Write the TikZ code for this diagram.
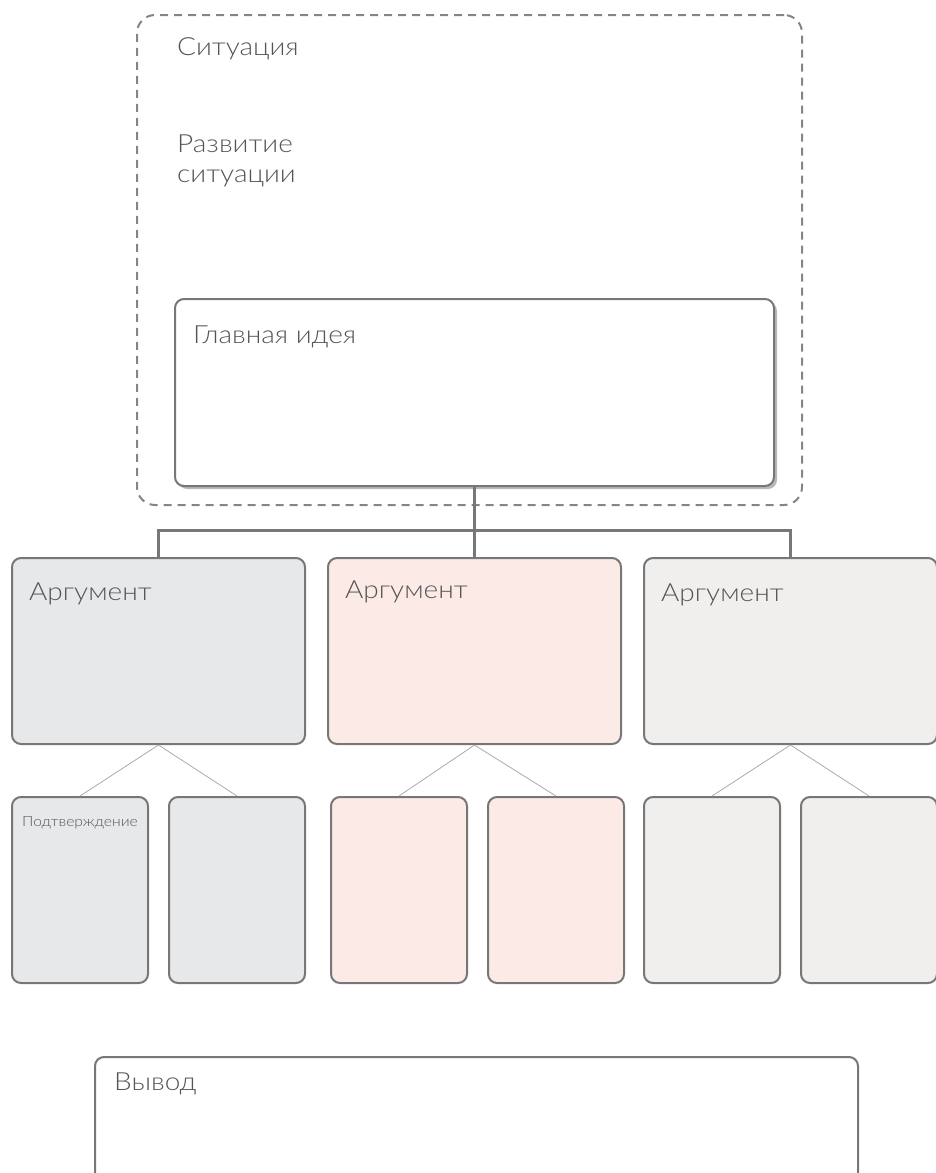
\documentclass[tikz,border=0pt]{standalone}
\usepackage{fontspec}
\IfFontExistsTF{Lato Light}{\setmainfont{Lato Light}[FakeStretch=1.12]}{\setmainfont{Lato}[FakeStretch=1.08]}
\usetikzlibrary{shadows}
\definecolor{edgegray}{HTML}{777777}
\definecolor{textgray}{HTML}{555555}
\definecolor{thingray}{HTML}{AAAAAA}
\definecolor{fillblue}{HTML}{E7E8EA}
\definecolor{fillpink}{HTML}{FCEAE7}
\definecolor{fillstone}{HTML}{F0EFEE}

\begin{document}
\begin{tikzpicture}[x=1pt,y=-1pt,
  box/.style={rectangle,draw=edgegray,line width=2pt,rounded corners=9pt,inner sep=0pt},
  arg box/.style={box,minimum width=293pt,minimum height=186pt},
  sub box/.style={box,minimum width=136pt,minimum height=186pt},
  frame box/.style={rectangle,draw=edgegray!90,line width=2pt,dash pattern=on 8pt off 6pt,rounded corners=18pt,minimum width=665pt,minimum height=490pt},
  caption/.style={anchor=base west,inner sep=0pt,text=textgray,font=\fontsize{25}{30}\selectfont},
  small caption/.style={caption,font=\fontsize{14}{18}\selectfont},
  link/.style={draw=edgegray,line width=3pt},
  thin link/.style={draw=thingray,line width=0.8pt}]

  \useasboundingbox (0,0) rectangle (935,1173);

  % situation frame and main idea
  \node[frame box] (sit) at (469.5,260) {};
  \node[box,fill=white,minimum width=599pt,minimum height=187pt,
        drop shadow={shadow xshift=3pt,shadow yshift=-3pt,opacity=0.55}] (idea) at (474.5,392.5) {};

  \node[caption] (sitText) at (177,55) {Ситуация};
  \node[caption,align=left] (devText) at (177,182) {Развитие\\ситуации};
  \node[caption] (ideaText) at (193,343) {Главная идея};

  % arguments
  \node[arg box,fill=fillblue] (arg1) at (158.5,651) {};
  \node[arg box,fill=fillpink] (arg2) at (474.5,651) {};
  \node[arg box,fill=fillstone] (arg3) at (790.5,651) {};

  \node[caption] (arg1Text) at (29,600) {Аргумент};
  \node[caption] (arg2Text) at (345,598) {Аргумент};
  \node[caption] (arg3Text) at (661,601) {Аргумент};

  % proofs
  \node[sub box,fill=fillblue] (p1a) at (80,890) {};
  \node[sub box,fill=fillblue] (p1b) at (237,890) {};
  \node[sub box,fill=fillpink] (p2a) at (399,890) {};
  \node[sub box,fill=fillpink] (p2b) at (556,890) {};
  \node[sub box,fill=fillstone] (p3a) at (712,890) {};
  \node[sub box,fill=fillstone] (p3b) at (869,890) {};

  \node[small caption] (proofText) at (22,826) {Подтверждение};

  % conclusion
  \node[box,fill=white,minimum width=763pt,minimum height=140pt] (concl) at (476.5,1127) {};
  \node[caption] (conclText) at (114,1090) {Вывод};

  % connectors
  \coordinate (bus) at (474.5,530);
  \path[link] (idea.south) -- (bus);
  \path[link] (arg1.north) |- (bus) -| (arg3.north);
  \path[link] (bus) -- (arg2.north);

  \path[thin link]
       (arg1.south) edge (p1a.north)
       (arg1.south) edge (p1b.north)
       (arg2.south) edge (p2a.north)
       (arg2.south) edge (p2b.north)
       (arg3.south) edge (p3a.north)
       (arg3.south) edge (p3b.north);
\end{tikzpicture}
\end{document}
